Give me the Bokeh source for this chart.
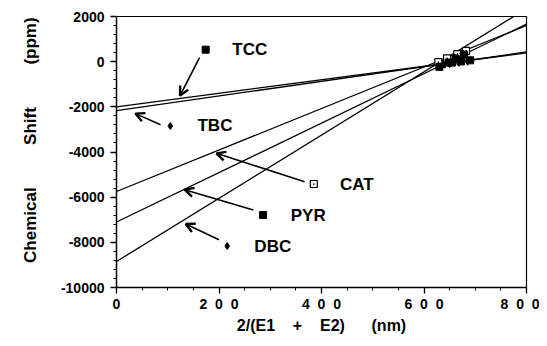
from bokeh.plotting import figure
from bokeh.models import (Range1d, SingleIntervalTicker, CustomJSTickFormatter,
                          ColumnDataSource, Arrow, OpenHead)
from bokeh.core.properties import value
from bokeh.embed import file_html
from bokeh.resources import INLINE

# ---- data ----
compounds = ["TCC", "TBC", "CAT", "PYR", "DBC"]
intercepts = [-2000, -2170, -5750, -7100, -8850]
slopes = [2.99, 3.25, 9.19, 10.95, 14.0]
line_x = [0, 800]

tcc_x = [635, 655, 672, 690]
tcc_y = [-110, -40, 10, 60]
tbc_x = [630, 650, 668, 685]
tbc_y = [-150, -90, -30, 20]
cat_x = [628, 645, 665, 682]
cat_y = [-20, 150, 330, 480]
pyr_x = [630, 648, 662, 678]
pyr_y = [-230, -40, 130, 310]
dbc_x = [632, 646, 660, 675]
dbc_y = [-230, -30, 160, 370]

# legend-like annotations (data units)
lab_mx = [174, 105, 385, 286, 216]
lab_my = [531, -2848, -5418, -6790, -8163]
lab_tx = [226, 158, 436, 340, 269]
arr_x0 = [162, 86, 367, 267, 200]
arr_y0 = [177, -2790, -5314, -6568, -7883]
arr_x1 = [124, 37, 195, 133, 135]
arr_y1 = [-1505, -2300, -4060, -5669, -7189]
lab_markers = ["square", "diamond", "square_dot", "square", "diamond"]

FONT = "Liberation Sans"
NB = "\u00a0"

p = figure(frame_width=410, frame_height=271, output_backend="svg",
           toolbar_location=None,
           x_range=Range1d(0, 800), y_range=Range1d(-10000, 2000),
           min_border_left=116, min_border_right=13, min_border_top=16,
           min_border_bottom=10)
p.grid.visible = False
p.background_fill_color = "white"
p.border_fill_color = "white"
p.outline_line_color = "black"
p.outline_line_width = 1.2

# lines
for b, m in zip(intercepts, slopes):
    p.line(line_x, [b + m * x for x in line_x], line_color="black", line_width=1.3)

# points
p.scatter(tcc_x, tcc_y, marker="square", size=7, color="black")
p.scatter(tbc_x, tbc_y, marker="diamond", size=8, color="black")
p.scatter(cat_x, cat_y, marker="square_dot", size=7, line_color="black",
          fill_color="white", line_width=1.2)
p.scatter(pyr_x, pyr_y, marker="square", size=7, color="black")
p.scatter(dbc_x, dbc_y, marker="diamond", size=8, color="black")

# annotation markers
for mx, my, mk in zip(lab_mx, lab_my, lab_markers):
    if mk == "square_dot":
        p.scatter([mx], [my], marker=mk, size=7, line_color="black",
                  fill_color="white", line_width=1.2)
    else:
        p.scatter([mx], [my], marker=mk, size=7, color="black")

src = ColumnDataSource(dict(x=lab_tx, y=lab_my, t=compounds))
p.text(x="x", y="y", text="t", source=src, text_font=value(FONT),
       text_font_style="bold", text_font_size="17px", text_baseline="middle",
       text_align="left", text_color="black")

asrc = ColumnDataSource(dict(x0=arr_x0, y0=arr_y0, x1=arr_x1, y1=arr_y1))
p.add_layout(Arrow(x_start="x0", y_start="y0", x_end="x1", y_end="y1",
                   source=asrc, line_width=1.6, line_color="black",
                   end=OpenHead(size=9, line_width=2.4, line_color="black")))

# axes
xa = p.xaxis[0]
xa.ticker = SingleIntervalTicker(interval=200, num_minor_ticks=4)
xa.formatter = CustomJSTickFormatter(
    code="return tick.toFixed(0).split('').join('\\u00a0\\u00a0');")
ya = p.yaxis[0]
ya.ticker = SingleIntervalTicker(interval=2000, num_minor_ticks=5)
ya.formatter = CustomJSTickFormatter(code="return tick.toFixed(0);")

for ax in (xa, ya):
    ax.axis_line_color = "black"
    ax.axis_line_width = 1.3
    ax.major_tick_line_color = "black"
    ax.major_tick_line_width = 1.3
    ax.minor_tick_line_color = "black"
    ax.major_tick_out = 6
    ax.major_tick_in = 0
    ax.minor_tick_out = 3
    ax.minor_tick_in = 0
    ax.major_label_text_font = FONT
    ax.major_label_text_font_style = "bold"
    ax.major_label_text_font_size = "14px"
    ax.major_label_text_color = "black"
    ax.axis_label_text_font = FONT
    ax.axis_label_text_font_style = "bold"
    ax.axis_label_text_color = "black"

xa.axis_label_text_font_size = "16px"
ya.axis_label_text_font_size = "17px"
xa.major_label_standoff = 2
ya.major_label_standoff = 6
xa.axis_label = "2/(E1" + NB * 4 + "+" + NB * 4 + "E2)" + NB * 6 + "(nm)"
ya.axis_label = NB * 5 + "Chemical" + NB * 9 + "Shift" + NB * 9 + "(ppm)"
xa.axis_label_standoff = 2
ya.axis_label_standoff = 18

open("out.html", "w").write(file_html(p, INLINE))
